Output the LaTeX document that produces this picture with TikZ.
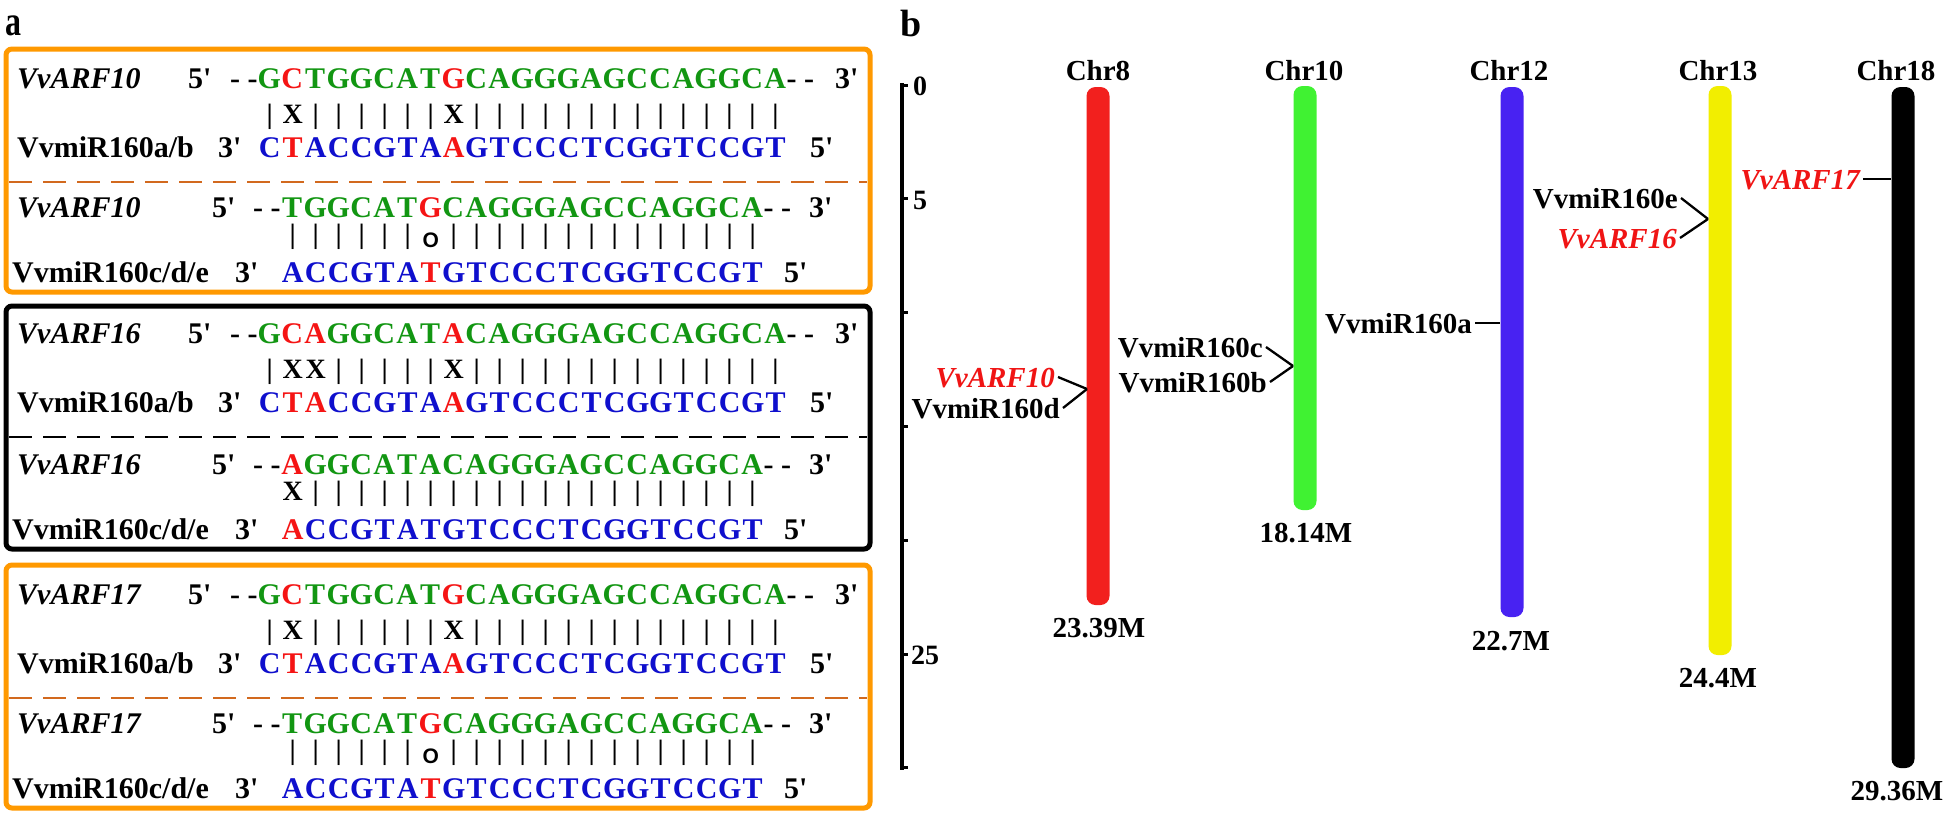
\documentclass[tikz,border=0pt]{standalone}
\usepackage{fontspec}
\usepackage{xcolor}
\usepackage{graphicx}
\newfontfamily\tnr{Liberation Serif}
\newfontfamily\lsans{Liberation Sans}
\definecolor{sgreen}{RGB}{18,150,18}
\definecolor{sblue}{RGB}{15,15,205}
\definecolor{sred}{RGB}{245,20,20}
\definecolor{boxorange}{RGB}{255,153,0}
\definecolor{dashorange}{RGB}{210,105,30}
\definecolor{cchra}{RGB}{242,32,30}
\definecolor{cchrb}{RGB}{64,242,50}
\definecolor{cchrc}{RGB}{72,34,242}
\definecolor{cchrd}{RGB}{242,238,0}
\definecolor{lred}{RGB}{240,20,20}
\newcommand\seqpitch{23pt}
\def\sqloop#1{\ifx#1\relax\let\sqnext\relax\else\ifx#1*\let\sqnext\sqred\else\makebox[\seqpitch]{#1}\let\sqnext\sqloop\fi\fi\sqnext}
\def\sqred#1{\makebox[\seqpitch]{\color{sred}#1}\sqloop}
\newcommand\ringmark{\raisebox{-4pt}{\lsans\bfseries\fontsize{21}{21}\selectfont O}}
\tikzset{
 seqtxt/.style={anchor=base west, inner sep=0pt, font=\tnr\bfseries\fontsize{30}{30}\selectfont},
 mtxt/.style={anchor=base west, inner sep=0pt, font=\tnr\bfseries\fontsize{28}{28}\selectfont},
 obox/.style={draw=boxorange, line width=5pt, rounded corners=6pt},
 kbox/.style={draw=black, line width=5pt, rounded corners=6pt},
 dline/.style={line width=2.5pt, dash pattern=on 23pt off 11pt},
 chrbar/.style={rectangle, draw=none, minimum width=23pt, inner sep=0pt, rounded corners=9pt},
 chrlbl/.style={anchor=base, inner sep=0pt, font=\tnr\bfseries\fontsize{29}{29}\selectfont},
 sidelbl/.style={anchor=east, inner xsep=3pt, inner ysep=0pt, text height=20pt, text depth=0pt, font=\tnr\bfseries\fontsize{29}{29}\selectfont},
 conn/.style={draw=black, line width=2.3pt},
 ruler/.style={draw=black, line width=3.5pt},
 panellbl/.style={anchor=base west, inner sep=0pt, font=\tnr\bfseries\fontsize{40}{40}\selectfont},
}
% #1 baseline, #2 gene, #3 gene seq, #4 match, #5 mir name, #6 mir seq, #7 id
\newcommand\pairA[7]{%
  \node[seqtxt] (#7gn) at (17,#1) {\itshape #2};
  \node[seqtxt] (#7gf) at (188,#1) {5'};
  \node[seqtxt] (#7gs) at (230,#1) {- -\textcolor{sgreen}{\sqloop #3\relax}- -};
  \node[seqtxt] (#7gt) at (835,#1) {3'};
  \node[mtxt] (#7m) at (258,#1+35) {\sqloop #4\relax};
  \node[seqtxt] (#7rn) at (17,#1+69) {#5};
  \node[seqtxt] (#7rt) at (218,#1+69) {3'};
  \node[seqtxt] (#7rs) at (258,#1+69) {\textcolor{sblue}{\sqloop #6\relax}};
  \node[seqtxt] (#7rf) at (810,#1+69) {5'};
}
\newcommand\pairB[7]{%
  \node[seqtxt] (#7gn) at (17,#1) {\itshape #2};
  \node[seqtxt] (#7gf) at (212,#1) {5'};
  \node[seqtxt] (#7gs) at (253,#1) {- -\textcolor{sgreen}{\sqloop #3\relax}- -};
  \node[seqtxt] (#7gt) at (809,#1) {3'};
  \node[mtxt] (#7m) at (281,#1+26) {\sqloop #4\relax};
  \node[seqtxt] (#7rn) at (12,#1+65) {#5};
  \node[seqtxt] (#7rt) at (235,#1+65) {3'};
  \node[seqtxt] (#7rs) at (281,#1+65) {\textcolor{sblue}{\sqloop #6\relax}};
  \node[seqtxt] (#7rf) at (784,#1+65) {5'};
}
\begin{document}
\begin{tikzpicture}[x=1pt,y=-1pt]
\useasboundingbox[fill=white] (0,0) rectangle (1946,814);
% ---------------- panel a
\node[panellbl] (pa) at (5,35) {\scalebox{0.8}[1.05]{a}};
% box 1
\draw[obox] (6,49) rectangle (870,292);
\draw[dline, dashorange] (9,182) -- (867,182);
\pairA{88}{VvARF10}{G*CTGGCAT*GCAGGGAGCCAGGCA}{|X||||||X||||||||||||||}{VvmiR160a/b}{C*TACCGTA*AGTCCCTCGGTCCGT}{A}
\pairB{217}{VvARF10}{TGGCAT*GCAGGGAGCCAGGCA}{||||||\ringmark||||||||||||||}{VvmiR160c/d/e}{ACCGTA*TGTCCCTCGGTCCGT}{B}
% box 2
\draw[kbox] (6,306) rectangle (870,549);
\draw[dline, black] (9,437) -- (867,437);
\pairA{343}{VvARF16}{G*C*AGGCAT*ACAGGGAGCCAGGCA}{|XX|||||X||||||||||||||}{VvmiR160a/b}{C*T*ACCGTA*AGTCCCTCGGTCCGT}{C}
\pairB{474}{VvARF16}{*AGGCATACAGGGAGCCAGGCA}{X||||||||||||||||||||}{VvmiR160c/d/e}{*ACCGTATGTCCCTCGGTCCGT}{D}
% box 3
\draw[obox] (6,565) rectangle (870,808);
\draw[dline, dashorange] (9,698) -- (867,698);
\pairA{604}{VvARF17}{G*CTGGCAT*GCAGGGAGCCAGGCA}{|X||||||X||||||||||||||}{VvmiR160a/b}{C*TACCGTA*AGTCCCTCGGTCCGT}{E}
\pairB{733}{VvARF17}{TGGCAT*GCAGGGAGCCAGGCA}{||||||\ringmark||||||||||||||}{VvmiR160c/d/e}{ACCGTA*TGTCCCTCGGTCCGT}{F}
% ---------------- panel b
\node[panellbl, font=\tnr\bfseries\fontsize{38}{38}\selectfont] (pb) at (900,36) {b};
% ruler
\coordinate (rtop) at (902,83);
\coordinate (rbot) at (902,770);
\draw[ruler] (rtop) -- (rbot);
\foreach \k in {0,...,6} { \draw[ruler, line width=3pt] (902,85+113.8*\k) -- ++(6,0); }
\node[chrlbl, anchor=base west, font=\tnr\bfseries\fontsize{28}{28}\selectfont] (rz) at (913,95) {0};
\node[chrlbl, anchor=base west, font=\tnr\bfseries\fontsize{28}{28}\selectfont] (rf) at (913,209) {5};
\node[chrlbl, anchor=base west, font=\tnr\bfseries\fontsize{28}{28}\selectfont] (rtf) at (911,664) {25};
% chromosomes
\node[chrbar, fill=cchra, minimum height=518pt] (c8) at (1098,346) {};
\node[chrbar, fill=cchrb, minimum height=424pt] (c10) at (1305,298) {};
\node[chrbar, fill=cchrc, minimum height=530pt] (c12) at (1512,352) {};
\node[chrbar, fill=cchrd, minimum height=569pt] (c13) at (1720,370.5) {};
\node[chrbar, fill=black, minimum height=681pt] (c18) at (1903,427.5) {};
\node[chrlbl] (n8) at (1098,80) {Chr8};
\node[chrlbl] (n10) at (1304,80) {Chr10};
\node[chrlbl] (n12) at (1509,80) {Chr12};
\node[chrlbl] (n13) at (1718,80) {Chr13};
\node[chrlbl] (n18) at (1896,80) {Chr18};
\node[chrlbl] (e8) at (1099,637) {23.39M};
\node[chrlbl] (e10) at (1306,542) {18.14M};
\node[chrlbl] (e12) at (1511,650) {22.7M};
\node[chrlbl] (e13) at (1718,687) {24.4M};
\node[chrlbl] (e18) at (1897,800) {29.36M};
% side labels
\node[sidelbl, text=lred, font=\tnr\bfseries\itshape\fontsize{29}{29}\selectfont] (l10) at (1058,377) {VvARF10};
\node[sidelbl] (lmd) at (1063,408) {VvmiR160d};
\coordinate (j8) at (1087,389);
\draw[conn] (l10.east) -- (j8);
\draw[conn] (lmd.east) -- (j8);
\node[sidelbl] (lmc) at (1266,347) {VvmiR160c};
\node[sidelbl] (lmb) at (1270,382) {VvmiR160b};
\coordinate (j10) at (1293,366);
\draw[conn] (lmc.east) -- (j10);
\draw[conn] (lmb.east) -- (j10);
\node[sidelbl] (lma) at (1475,323) {VvmiR160a};
\coordinate (j12) at (1500,323);
\draw[conn] (lma.east) -- (j12);
\node[sidelbl] (lme) at (1681,198) {VvmiR160e};
\node[sidelbl, text=lred, font=\tnr\bfseries\itshape\fontsize{29}{29}\selectfont] (l16) at (1680,238) {VvARF16};
\coordinate (j13) at (1708,219);
\draw[conn] (lme.east) -- (j13);
\draw[conn] (l16.east) -- (j13);
\node[sidelbl, text=lred, font=\tnr\bfseries\itshape\fontsize{29}{29}\selectfont] (l17) at (1863,179) {VvARF17};
\coordinate (j18) at (1891,179);
\draw[conn] (l17.east) -- (j18);
\end{tikzpicture}
\end{document}
